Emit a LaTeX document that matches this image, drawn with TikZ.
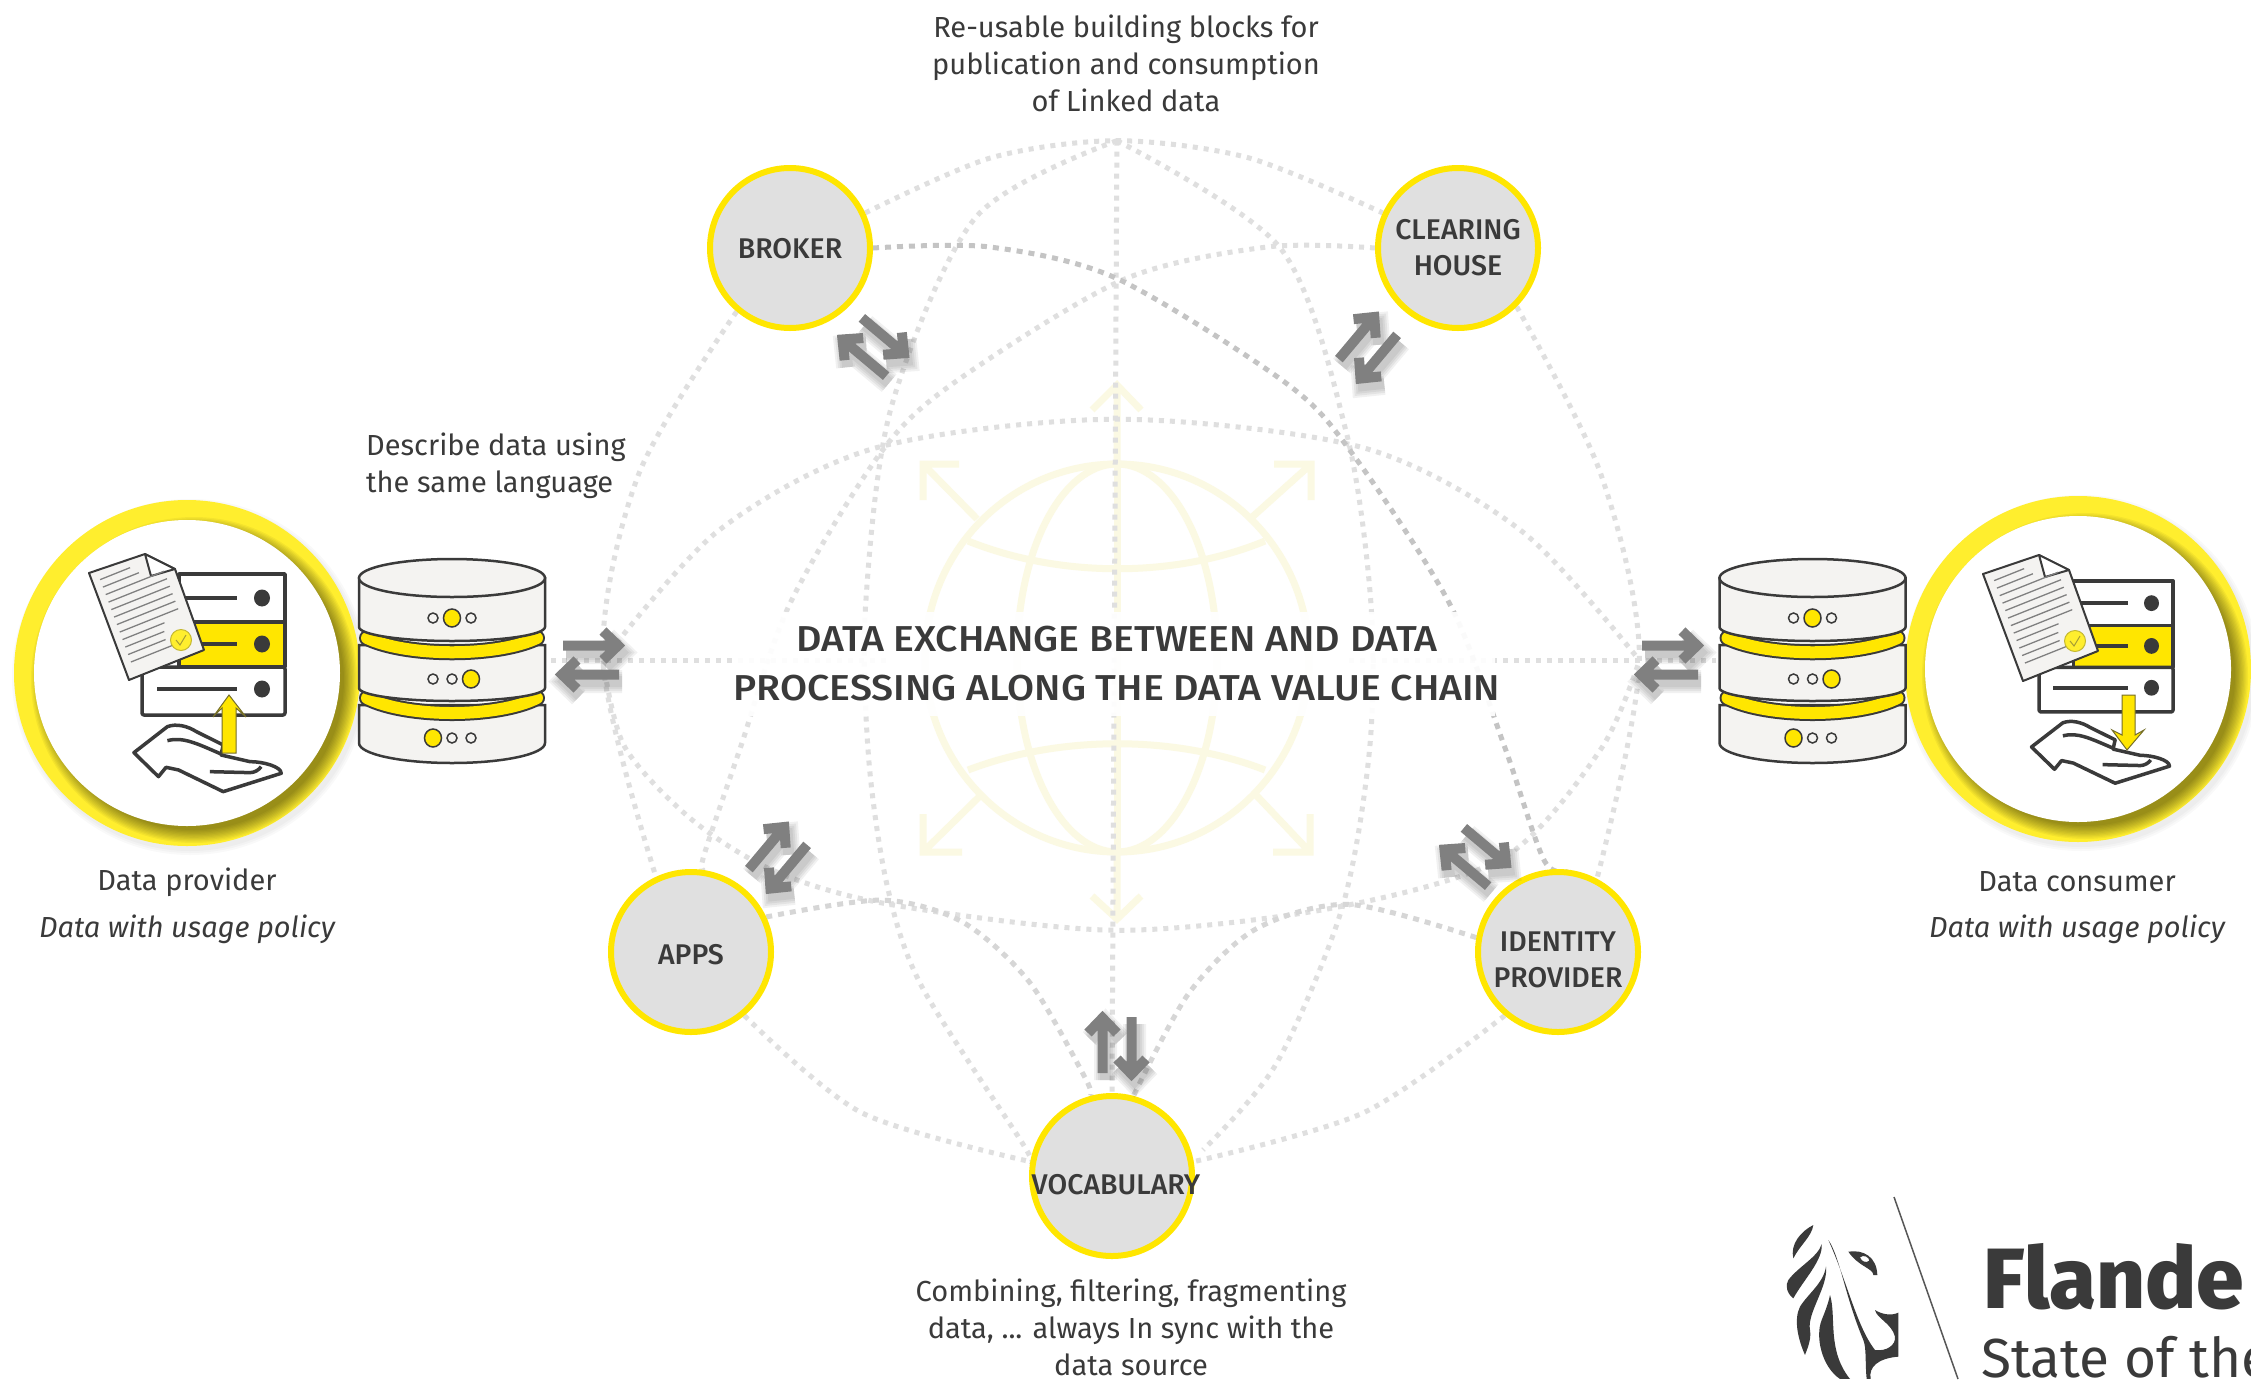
\documentclass[tikz,border=0pt]{standalone}
\usepackage{fontspec}
\setmainfont{Fira Sans}
\newfontfamily\medfont{Fira Sans Medium}
\newfontfamily\medwide[FakeStretch=1.09]{Fira Sans Medium}
\usetikzlibrary{backgrounds}
\definecolor{ink}{HTML}{3A3A3A}
\definecolor{dotlight}{HTML}{DFDFDF}
\definecolor{dotmid}{HTML}{D6D6D6}
\definecolor{dotdark}{HTML}{C4C4C4}
\definecolor{ring}{HTML}{FFEE2E}
\definecolor{yel}{HTML}{FFE600}
\definecolor{paper}{HTML}{F4F3F1}
\definecolor{globe}{HTML}{FBF9E3}
\definecolor{arrowgrey}{HTML}{808080}
\definecolor{nodegrey}{HTML}{E0E0E0}
\tikzset{
  web/.style={draw=dotlight,line width=5pt,dash pattern=on 5pt off 6pt},
  webmid/.style={draw=dotmid,line width=5pt,dash pattern=on 6pt off 6pt},
  webdark/.style={draw=dotdark,line width=5pt,dash pattern=on 6pt off 6pt},
  globeline/.style={draw=globe,line width=7pt},
  satellite/.style={circle,draw=yel,fill=nodegrey,line width=6pt,minimum size=160pt,inner sep=0pt},
  sattext/.style={font=\medfont\fontsize{28.5}{36}\selectfont,text=ink,align=center,inner sep=0pt},
  caption/.style={font=\fontsize{29}{37}\selectfont,text=ink,align=center,inner sep=0pt},
  tower/.style={draw=ink,fill=paper,line width=2.5pt},
  iconline/.style={draw=ink,line width=3.5pt,line join=round},
}
% grey pair of opposite arrows
\newcommand{\arrowshape}[2]{%
  \draw[#1,line width=#2,line join=miter]
    (-28,-14.5) -- (26,-14.5) (12,-29) -- (27,-14.5) -- (12,0);
  \draw[#1,line width=#2,line join=miter]
    (28,14.5) -- (-28,14.5) (-14,0) -- (-29,14.5) -- (-14,29);
}
\newcommand{\dblarrow}[3]{%
  \begin{scope}[shift={(#1+3,#2+7)},rotate=#3]
    \foreach \w in {23,19,15,11}{\arrowshape{black,opacity=.055}{\w pt}}
  \end{scope}
  \begin{scope}[shift={(#1,#2)},rotate=#3]
    \arrowshape{arrowgrey}{10pt}
  \end{scope}
}
% big ring
\newcommand{\bigring}[2]{%
  \begin{scope}[shift={(#1,#2)}]
    \foreach \r in {174,176,178}{\fill[black,opacity=.025] (3,4) circle[radius=\r pt];}
    \fill[ring] (0,0) circle[radius=173pt];
    \begin{scope}
      \clip (0,0) circle[radius=173pt];
      \foreach \k in {0,...,10}{\fill[black,opacity=.042] (7,7) circle[radius=150pt+\k*1.3pt];}
    \end{scope}
    \fill[white] (0,0) circle[radius=153pt];
  \end{scope}
}
% database tower
\newcommand{\dbband}[2]{%
  \draw[ink,line width=16pt,line cap=round] (-85,#1) .. controls (-45,#2) and (45,#2) .. (85,#1);
  \draw[yel,line width=12pt,line cap=round] (-85,#1) .. controls (-45,#2) and (45,#2) .. (85,#1);
}
\newcommand{\dbdot}[3]{%
  \ifnum#3=1
    \fill[yel,draw=ink,line width=1.5pt] (#1,#2) ellipse[x radius=8.5pt,y radius=9pt];
  \else
    \fill[paper,draw=ink,line width=1.5pt] (#1,#2) circle[radius=5pt];
  \fi
}
\newcommand{\dbstack}[1]{%
  \begin{scope}[shift={(#1,0)}]
    \path[tower] (-93,705) -- (-93,743) arc[start angle=180,end angle=360,x radius=93pt,y radius=20pt] -- (93,705) -- cycle;
    \dbband{698}{718}
    \path[tower] (-93,645) -- (-93,688) arc[start angle=180,end angle=360,x radius=93pt,y radius=13pt] -- (93,645) -- cycle;
    \dbband{638}{657}
    \path[tower] (-93,578) -- (-93,627) arc[start angle=180,end angle=360,x radius=93pt,y radius=14pt] -- (93,578) -- cycle;
    \path[tower] (0,578) ellipse[x radius=93pt,y radius=19pt];
    \dbdot{-19}{618}{0}\dbdot{0}{618}{1}\dbdot{19}{618}{0}
    \dbdot{-19}{679}{0}\dbdot{0}{679}{0}\dbdot{19}{679}{1}
    \dbdot{-19}{738}{1}\dbdot{0}{738}{0}\dbdot{19}{738}{0}
  \end{scope}
}
% server rack
\newcommand{\iconserver}{%
  \path[iconline,fill=white] (179,574) rectangle (285,622);
  \path[iconline,fill=yel] (179,622) rectangle (285,667);
  \path[iconline,fill=white,rounded corners=2pt] (142,667) -- (142,715) -- (285,715) -- (285,667) -- cycle;
  \draw[iconline] (175,598) -- (237,598) (175,644) -- (237,644) (157,689) -- (237,689);
  \foreach \y in {598,644,689}{\fill[ink] (262,\y) ellipse[x radius=8pt,y radius=8.5pt];}
}
% document
\newcommand{\icondoc}{%
  \path[draw=ink,line width=2pt,fill=paper,line join=round] (89,573) -- (145,554) -- (175,569) -- (204,650) -- (129,680) -- cycle;
  \path[draw=ink,line width=2pt,fill=white,line join=round] (145,554) -- (151,576) -- (175,569) -- cycle;
  \begin{scope}[shift={(89,573)},x={(75pt,30pt)},y={(40pt,-107pt)}]
    \foreach \t/\e in {.09/.5,.16/.58,.23/.88,.30/.88,.37/.88,.44/.88,.51/.88,.58/.88,.65/.66,.72/.62,.79/.6,.86/.66}{
      \draw[arrowgrey,line width=1.3pt] (.1,\t) -- (\e,\t);
    }
  \end{scope}
  \path[draw=ring!70!ink,fill=ring,line width=1pt] (181,640) circle[radius=10.5pt];
  \draw[ring!55!ink,line width=1pt] (176,640) -- (180,645) -- (186,635);
}
% open hand, in coordinates of a 2.24 x 3 enlargement
\newcommand{\iconhand}{%
  \begin{scope}[shift={(0,480)},x=.4464pt,y=-.3333pt]
    \draw[iconline,fill=white] (300,818) -- (375,740) .. controls (395,730) and (420,738) .. (440,755)
      -- (500,795) -- (495,825) -- (560,845) .. controls (590,845) and (630,860) .. (630,880)
      -- (500,935) -- (400,870) -- (372,862) -- (355,890) -- cycle;
    \draw[iconline] (375,782) .. controls (410,770) and (440,790) .. (495,822);
    \draw[iconline] (470,875) -- (560,878) .. controls (570,878) and (580,870) .. (585,860);
  \end{scope}
}
\begin{document}
\begin{tikzpicture}[x=1pt,y=-1pt]
\useasboundingbox (0,0) rectangle (2251,1379);

% satellites
\node[satellite] (bro) at (790,248) {};
\node[satellite] (cle) at (1458,248) {};
\node[satellite] (app) at (691,952) {};
\node[satellite] (idp) at (1558,952) {};
\node[satellite] (voc) at (1112,1176) {};
\node[sattext] (brot) at (790,249) {BROKER};
\node[sattext] (clet) at (1458,248) {CLEARING\\HOUSE};
\node[sattext] (appt) at (691,955) {APPS};
\node[sattext] (idpt) at (1558,960) {IDENTITY\\PROVIDER};
\node[sattext] (voct) at (1116,1185) {VOCABULARY};

\begin{scope}[on background layer]
  \fill[white] (0,0) rectangle (2251,1379);
  % globe watermark
  \path[globeline] (1117,658) ellipse[x radius=192pt,y radius=194pt];
  \path[globeline] (1117,658) ellipse[x radius=100pt,y radius=194pt];
  \draw[globeline] (1117,464) -- (1117,852);
  \draw[globeline] (968,541) .. controls (1060,578) and (1175,578) .. (1265,541);
  \draw[globeline] (968,770) .. controls (1060,735) and (1175,735) .. (1265,770);
  \draw[globeline] (1117,464) -- (1117,385) (1092,410) -- (1117,385) -- (1141,410);
  \draw[globeline] (1117,852) -- (1117,919) (1092,896) -- (1117,919) -- (1141,896);
  \draw[globeline] (977,519) -- (925,466) (959,464) -- (923,464) -- (923,500);
  \draw[globeline] (1250,519) -- (1309,466) (1274,464) -- (1311,464) -- (1311,500);
  \draw[globeline] (980,796) -- (925,850) (962,852) -- (923,852) -- (923,814);
  \draw[globeline] (1256,795) -- (1308,850) (1273,852) -- (1310,852) -- (1310,814);

  \begin{scope}[x=1.4356pt,y=-1.4356pt]
    \coordinate (gtop) at (778,98);
    \coordinate (gleft) at (420,460);
    \coordinate (gright) at (1142,460);
    \draw[web] plot[smooth] coordinates {(bro.25) (690,110) (gtop) (870,110) (cle.155)};
    \draw[web] plot[smooth] coordinates {(cle.-45) (1115,330) (gright) (idp.62)};
    \draw[web] plot[smooth] coordinates {(bro.230) (445,330) (gleft) (app.115)};
    \draw[web] plot[smooth] coordinates {(app.-50) (600,775) (voc.170)};
    \draw[web] plot[smooth] coordinates {(idp.-130) (950,775) (voc.10)};
    \draw[web] (gtop) -- (voc.north);
    \draw[web] (384,460) -- (gleft) -- (620,460);
    \draw[web] (940,460) -- (gright) -- (1195,460);
    \draw[web] plot[smooth] coordinates {(gleft) (500,370) (610,312) (778,292) (950,312) (1060,370) (gright)};
    \draw[web] plot[smooth] coordinates {(gleft) (435,520) (482,571) (540,607) (620,630) (778,648) (931,632) (1048,597) (1115,522) (gright)};
    \draw[web] plot[smooth] coordinates {(gtop) (680,151) (621,283) (603,421) (605,527) (618,617) (642,687) (712,796) (voc.170)};
    \draw[web] plot[smooth] coordinates {(gtop) (892,173) (938,302) (955,421) (954,522) (935,632) (889,741) (838,801)};
    \draw[web] plot[smooth] coordinates {(cle.180) (883,172) (782,195) (664,267) (613,316) (550,421) (516,520) (490,597) (app.80)};
    \draw[webdark] plot[smooth] coordinates {(bro.0) (689,172) (778,194) (896,267) (942,316) (1010,421) (1048,520) (1076,600) (idp.80)};
    \draw[webmid] plot[smooth] coordinates {(app.25) (614,627) (670,642) (717,684) (756,751) (voc.105)};
    \draw[webmid] plot[smooth] coordinates {(idp.170) (940,630) (875,647) (828,692) (voc.75)};
  \end{scope}
  \fill[white,opacity=.93] (735,612) rectangle (1495,716);
\end{scope}

% central title
\node[font=\medwide\fontsize{36}{49}\selectfont,text=ink,align=center,inner sep=0pt] (title) at (1117,664)
  {DATA EXCHANGE BETWEEN AND DATA\\PROCESSING ALONG THE DATA VALUE CHAIN};

% captions
\node[caption] (captop) at (1126,63) {Re-usable building blocks for\\publication and consumption\\of Linked data};
\node[caption,align=left,anchor=west] (capdesc) at (366,466) {Describe data using\\the same language};
\node[caption] (capbot) at (1131,1327) {Combining, filtering, fragmenting\\data, ... always In sync with the\\data source};
\node[caption] (provname) at (187,882) {Data provider};
\node[caption,font=\itshape\fontsize{29}{37}\selectfont] (provpol) at (187,929) {Data with usage policy};
\node[caption] (consname) at (2077,882) {Data consumer};
\node[caption,font=\itshape\fontsize{29}{37}\selectfont] (conspol) at (2077,929) {Data with usage policy};

% left icon
\bigring{187}{673}
\iconserver
\icondoc
\iconhand
\path[fill=yel,draw=ink!70!yel,line width=1pt] (222,753) -- (236,753) -- (236,708) -- (246,717) -- (229,695) -- (213,717) -- (222,708) -- cycle;
\dbstack{452}

% right icon
\bigring{2078}{669}
\begin{scope}[shift={(1906,47)},xscale=.937,yscale=.93]
  \iconserver
\end{scope}
\begin{scope}[shift={(1894,1)}]
  \icondoc
\end{scope}
\begin{scope}[shift={(1906,47)},xscale=.937,yscale=.93]
  \iconhand
\end{scope}
\path[fill=yel,draw=ink!70!yel,line width=1pt] (2122,695) -- (2135,695) -- (2135,735) -- (2144,730) -- (2127,750) -- (2112,730) -- (2122,735) -- cycle;
\dbstack{1812.5}

% exchange arrows
\dblarrow{591}{660}{0}
\dblarrow{1670}{660}{0}
\dblarrow{874}{347}{-40}
\dblarrow{1368}{347}{50}
\dblarrow{778}{857}{50}
\dblarrow{1476}{857}{-40}
\dblarrow{1117}{1045}{90}

% logo
\begin{scope}
  \clip (0,0) rectangle (2251,1379);
  \draw[ink!85!white,line width=1.5pt] (1894,1197) -- (1958,1379);
  \begin{scope}[shift={(1750,1170)},x=.3333pt,y=-.3333pt]
    \fill[ink] (190,165) .. controls (185,200) and (150,225) .. (130,265) .. controls (120,225) and (150,185) .. (190,165) -- cycle;
    \fill[ink] (215,222) .. controls (220,270) and (160,330) .. (130,385) .. controls (110,370) and (105,345) .. (115,330) .. controls (145,290) and (205,260) .. (215,222) -- cycle;
    \fill[ink] (228,290) .. controls (235,350) and (170,430) .. (180,480) .. controls (185,510) and (170,540) .. (165,555) .. controls (145,510) and (130,450) .. (150,410) .. controls (175,370) and (220,340) .. (228,290) -- cycle;
    \fill[ink] (240,375) .. controls (260,440) and (230,540) .. (300,627) -- (270,627) .. controls (215,590) and (195,500) .. (215,450) .. controls (225,425) and (235,400) .. (240,375) -- cycle;
    \fill[ink] (235,210) .. controls (270,260) and (285,380) .. (340,510) .. controls (350,535) and (345,580) .. (350,627)
      -- (362,627) .. controls (355,590) and (385,565) .. (445,560) -- (445,428) .. controls (420,440) and (390,430) .. (375,420)
      .. controls (380,445) and (425,460) .. (435,500) .. controls (438,525) and (410,545) .. (375,540)
      .. controls (320,470) and (290,330) .. (235,210) -- cycle;
    \fill[ink,even odd rule] (295,245) .. controls (340,238) and (380,260) .. (382,315) -- (370,315)
      .. controls (370,295) and (325,290) .. (295,245) -- cycle
      (330,262) .. controls (340,252) and (358,262) .. (358,272) .. controls (348,280) and (335,275) .. (330,262) -- cycle;
  \end{scope}
  \node[anchor=base west,inner sep=0pt,font=\medfont\bfseries\fontsize{85.5}{90}\selectfont,text=ink] (logoa) at (1983,1308) {Flande};
  \node[anchor=base west,inner sep=0pt,font=\fontsize{55}{60}\selectfont,text=ink] (logob) at (1981,1377) {State of the};
\end{scope}
\end{tikzpicture}
\end{document}
